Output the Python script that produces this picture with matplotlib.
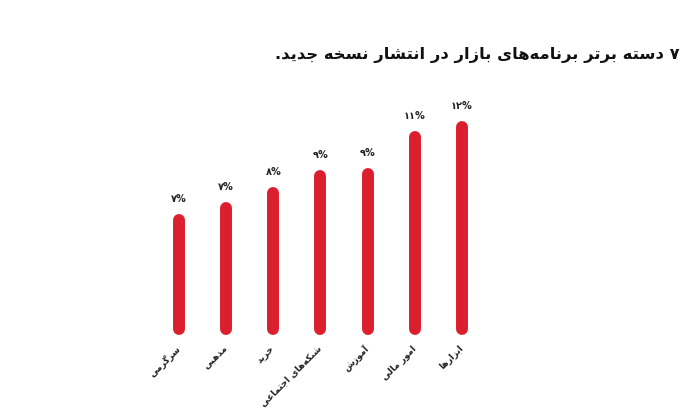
import matplotlib
matplotlib.use("Agg")
import matplotlib.pyplot as plt

# data (values in %, logical Persian text)
title = "۷ دسته برتر برنامه‌های بازار در انتشار نسخه جدید."
categories = ["سرگرمی", "مذهبی", "خرید", "شبکه‌های اجتماعی", "آموزش", "امور مالی", "ابزارها"]
values = [6.5, 7.2, 8.1, 9.1, 9.2, 11.4, 12.0]
value_labels = ["۷%", "۷%", "۸%", "۹%", "۹%", "۱۱%", "۱۲%"]

RED = "#DC1F2E"

# presentation forms: isolated, final, initial, medial (None = does not join forward)
FORMS = {
    "ا": ("\uFE8D", "\uFE8E", None, None),
    "آ": ("\uFE81", "\uFE82", None, None),
    "ب": ("\uFE8F", "\uFE90", "\uFE91", "\uFE92"),
    "پ": ("\uFB56", "\uFB57", "\uFB58", "\uFB59"),
    "ت": ("\uFE95", "\uFE96", "\uFE97", "\uFE98"),
    "ث": ("\uFE99", "\uFE9A", "\uFE9B", "\uFE9C"),
    "ج": ("\uFE9D", "\uFE9E", "\uFE9F", "\uFEA0"),
    "چ": ("\uFB7A", "\uFB7B", "\uFB7C", "\uFB7D"),
    "ح": ("\uFEA1", "\uFEA2", "\uFEA3", "\uFEA4"),
    "خ": ("\uFEA5", "\uFEA6", "\uFEA7", "\uFEA8"),
    "د": ("\uFEA9", "\uFEAA", None, None),
    "ذ": ("\uFEAB", "\uFEAC", None, None),
    "ر": ("\uFEAD", "\uFEAE", None, None),
    "ز": ("\uFEAF", "\uFEB0", None, None),
    "ژ": ("\uFB8A", "\uFB8B", None, None),
    "س": ("\uFEB1", "\uFEB2", "\uFEB3", "\uFEB4"),
    "ش": ("\uFEB5", "\uFEB6", "\uFEB7", "\uFEB8"),
    "ع": ("\uFEC9", "\uFECA", "\uFECB", "\uFECC"),
    "ف": ("\uFED1", "\uFED2", "\uFED3", "\uFED4"),
    "ق": ("\uFED5", "\uFED6", "\uFED7", "\uFED8"),
    "ک": ("\uFB8E", "\uFB8F", "\uFB90", "\uFB91"),
    "گ": ("\uFB92", "\uFB93", "\uFB94", "\uFB95"),
    "ل": ("\uFEDD", "\uFEDE", "\uFEDF", "\uFEE0"),
    "م": ("\uFEE1", "\uFEE2", "\uFEE3", "\uFEE4"),
    "ن": ("\uFEE5", "\uFEE6", "\uFEE7", "\uFEE8"),
    "ه": ("\uFEE9", "\uFEEA", "\uFEEB", "\uFEEC"),
    "و": ("\uFEED", "\uFEEE", None, None),
    "ی": ("\uFBFC", "\uFBFD", "\uFBFE", "\uFBFF"),
}


def rtl(text):
    # join letters and put them in visual order (matplotlib has no shaping)
    out = []
    for i, c in enumerate(text):
        if c not in FORMS:
            if c != "\u200c":
                out.append(c)
            continue
        prev = text[i - 1] if i > 0 else None
        nxt = text[i + 1] if i + 1 < len(text) else None
        jp = prev in FORMS and FORMS[prev][2] is not None
        jn = FORMS[c][2] is not None and nxt in FORMS
        iso, fin, ini, med = FORMS[c]
        if jp and jn:
            out.append(med)
        elif jp:
            out.append(fin)
        elif jn:
            out.append(ini)
        else:
            out.append(iso)
    return "".join(out)[::-1]


plt.rcParams["font.family"] = ["DejaVu Sans"]

fig = plt.figure(figsize=(6.93, 4.12), dpi=100)
ax = fig.add_axes([0.2243, 0.2015, 0.4763, 0.5718])

x = list(range(len(values)))
ax.vlines(x, 0, values, color=RED, linewidth=8.6, capstyle="round", clip_on=False)

for xi, v, lab in zip(x, values, value_labels):
    ax.annotate(lab, (xi, v), xytext=(0, 15), textcoords="offset points",
                ha="center", va="center", fontsize=7, fontweight="bold", color="#222222")

ax.set_xlim(-0.5, 6.5)
ax.set_ylim(0, 14)
ax.set_xticks(x)
ax.set_xticklabels([rtl(c) for c in categories], rotation=45, ha="right", va="center",
                   rotation_mode="anchor", fontsize=6.5, fontweight="bold", color="#222222")
ax.tick_params(axis="x", length=0, pad=13)
ax.set_yticks([])
for s in ax.spines.values():
    s.set_visible(False)

fig.text(0.981, 0.867, rtl(title), ha="right", va="center", fontsize=11.8,
         fontweight="bold", color="#111111")

fig.savefig("out.png", dpi=100)
